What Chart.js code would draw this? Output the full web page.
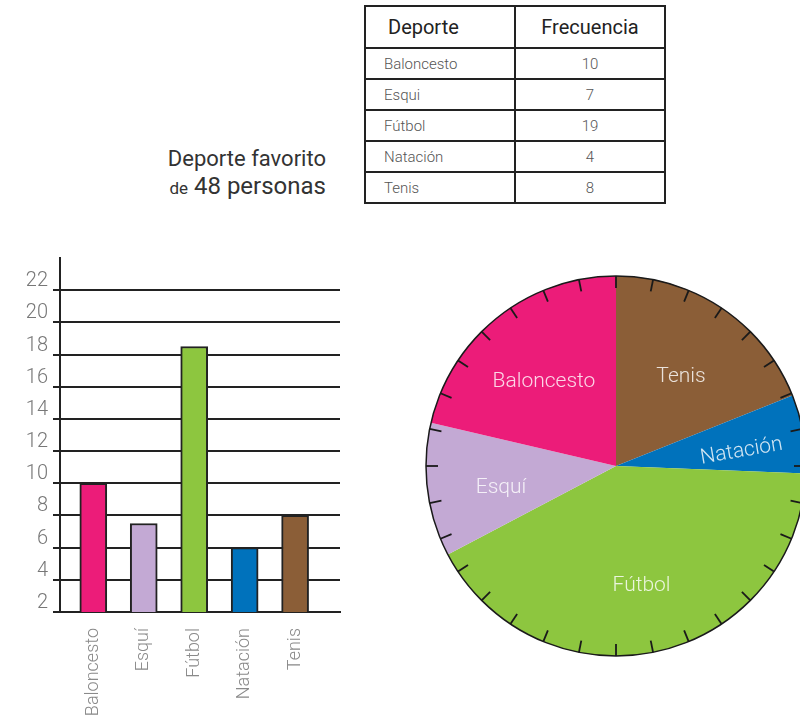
<!DOCTYPE html>
<html>
<head>
<meta charset="utf-8">
<script src="https://cdn.jsdelivr.net/npm/chart.js@4"></script>
<style>
  html, body { margin: 0; padding: 0; background: #fff; width: 800px; height: 728px; overflow: hidden; font-family: Roboto, "Noto Sans", sans-serif; }
  #tabla { position: absolute; left: 364px; top: 5px; width: 302px; border-collapse: collapse; table-layout: fixed; }
  #tabla td, #tabla th { border: 2px solid #222; padding: 0; }
  #tabla th { height: 40px; font-size: 20px; font-weight: 400; color: #222; }
  #tabla th:first-child { text-align: left; padding-left: 22px; }
  #tabla td { height: 29px; font-size: 15px; font-weight: 300; color: #555; }
  #tabla td:first-child { text-align: left; padding-left: 18px; }
  #tabla td:last-child { text-align: center; }
  #titulo { position: absolute; right: 474px; top: 146px; text-align: right; color: #333; }
  #titulo .l1 { font-size: 22px; line-height: 25px; }
  #titulo .l2 { font-size: 24px; line-height: 30px; margin-top: 0; }
  #titulo .l2 small { font-size: 17px; }
  #barBox { position: absolute; left: 0; top: 240px; width: 345px; height: 488px; }
  #pieBox { position: absolute; left: 416px; top: 266px; width: 400px; height: 400px; }
</style>
</head>
<body>
<table id="tabla"></table>
<div id="titulo"><div class="l1">Deporte favorito</div><div class="l2"><small>de</small> 48 personas</div></div>
<div id="barBox"><canvas id="barras"></canvas></div>
<div id="pieBox"><canvas id="pastel"></canvas></div>
<script>
// categorias y valores
const categories = ['Baloncesto', 'Esquí', 'Fútbol', 'Natación', 'Tenis'];
const tableSports = ['Baloncesto', 'Esqui', 'Fútbol', 'Natación', 'Tenis'];
const tableFreq = [10, 7, 19, 4, 8];
const barValues = [10, 7.5, 18.5, 6, 8];      // como se ven en el grafico de barras
const pieShares = [10.25, 5.45, 20, 3.2, 9.1]; // partes de 48 segun los angulos
const colors = ['#EC1C79', '#C3A9D4', '#8DC63F', '#0072BC', '#8B5E37'];
const yTicks = [2, 24, 2]; // min, max, paso

// tabla
const tabla = document.getElementById('tabla');
let rows = '<tr><th>Deporte</th><th>Frecuencia</th></tr>';
tableSports.forEach((s, i) => { rows += '<tr><td>' + s + '</td><td>' + tableFreq[i] + '</td></tr>'; });
tabla.innerHTML = rows;

Chart.defaults.font.family = 'Roboto, "Noto Sans", sans-serif';
Chart.defaults.animation = false;

// grafico de barras
new Chart(document.getElementById('barras'), {
  type: 'bar',
  data: {
    datasets: [{
      data: barValues.map((v, i) => ({ x: i, y: v })),
      backgroundColor: colors,
      borderColor: '#222',
      borderWidth: 2,
      barThickness: 27
    }]
  },
  options: {
    responsive: true,
    maintainAspectRatio: false,
    layout: { padding: { top: 18, right: 5, left: 0, bottom: 0 } },
    plugins: { legend: { display: false }, tooltip: { enabled: false } },
    scales: {
      x: {
        type: 'linear',
        offset: false,
        min: -0.66,
        max: 4.89,
        afterFit: s => { s.height = 116; },
        grid: { display: false, offset: false },
        border: { display: true, color: '#222', width: 2 },
        ticks: {
          stepSize: 1,
          includeBounds: false,
          autoSkip: false,
          maxRotation: 90,
          minRotation: 90,
          padding: 8,
          color: '#8a8a8a',
          font: { size: 18, weight: 300 },
          callback: v => categories[v] ?? ''
        }
      },
      y: {
        min: yTicks[0],
        max: yTicks[1],
        afterFit: s => { s.width = 60; },
        grid: {
          color: c => (c.tick && c.tick.value === yTicks[1]) ? 'rgba(0,0,0,0)' : '#222',
          lineWidth: 2,
          tickLength: 7
        },
        border: { display: true, color: '#222', width: 2 },
        ticks: {
          stepSize: yTicks[2],
          padding: 5,
          labelOffset: -9,
          color: '#777',
          font: { size: 20, weight: 300 },
          callback: v => v === yTicks[1] ? '' : v
        }
      }
    }
  }
});

// marcas del borde y etiquetas del pastel
const pieDecor = {
  id: 'pieDecor',
  afterDatasetsDraw(chart) {
    const ctx = chart.ctx;
    const arcs = chart.getDatasetMeta(0).data;
    if (!arcs.length) return;
    const cx = arcs[0].x, cy = arcs[0].y, r = arcs[0].outerRadius;
    ctx.save();
    ctx.strokeStyle = '#1a1a1a';
    ctx.lineWidth = 1.5;
    ctx.beginPath();
    ctx.arc(cx, cy, r, 0, Math.PI * 2);
    ctx.stroke();
    const nTicks = 32;
    ctx.lineWidth = 1.8;
    for (let k = 0; k < nTicks; k++) {
      const a = -Math.PI / 2 + k * Math.PI * 2 / nTicks;
      ctx.beginPath();
      ctx.moveTo(cx + Math.cos(a) * r, cy + Math.sin(a) * r);
      ctx.lineTo(cx + Math.cos(a) * (r - 12), cy + Math.sin(a) * (r - 12));
      ctx.stroke();
    }
    ctx.fillStyle = 'rgba(255,255,255,0.82)';
    ctx.font = '300 21px Roboto, "Noto Sans", sans-serif';
    ctx.textAlign = 'center';
    ctx.textBaseline = 'middle';
    const labels = chart.data.labels;
    arcs.forEach((arc, i) => {
      const mid = (arc.startAngle + arc.endAngle) / 2;
      const narrow = (arc.endAngle - arc.startAngle) < 0.5;
      const d = r * (narrow ? 0.67 : 0.61);
      ctx.save();
      ctx.translate(cx + Math.cos(mid) * d, cy + 7 + Math.sin(mid) * d);
      if (narrow) ctx.rotate(mid);
      ctx.fillText(labels[i], 0, 0);
      ctx.restore();
    });
    ctx.restore();
  }
};

// el pastel va en sentido antihorario desde arriba
new Chart(document.getElementById('pastel'), {
  type: 'pie',
  data: {
    labels: categories.slice().reverse(),
    datasets: [{
      data: pieShares.slice().reverse(),
      backgroundColor: colors.slice().reverse(),
      borderWidth: 0
    }]
  },
  options: {
    responsive: true,
    maintainAspectRatio: false,
    layout: { padding: 10 },
    plugins: { legend: { display: false }, tooltip: { enabled: false } }
  },
  plugins: [pieDecor]
});
</script>
</body>
</html>
